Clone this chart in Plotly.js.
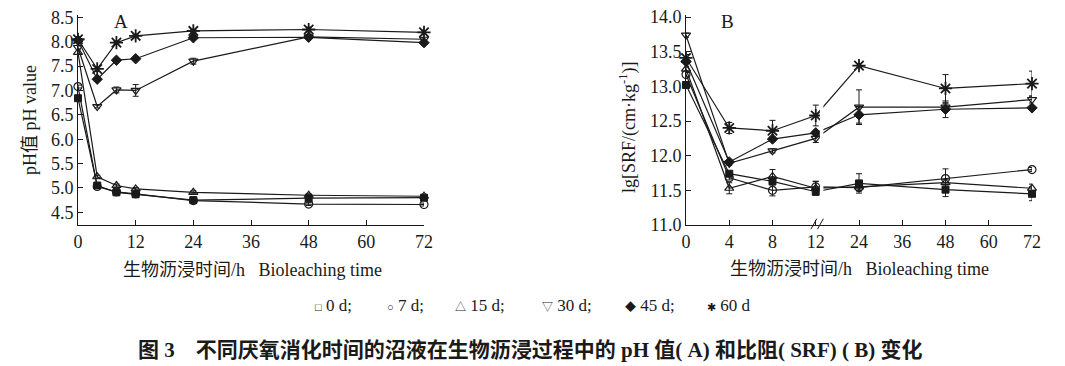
<!DOCTYPE html>
<html>
<head>
<meta charset="utf-8">
<script src="https://cdn.plot.ly/plotly-3.0.1.min.js"></script>
<style>html,body{margin:0;padding:0;background:#fff;}#chart{width:1065px;height:366px;}</style>
</head>
<body>
<div id="chart"></div>
<script>
// ---- data ----
const timesA = [0, 4, 8, 12, 24, 48, 72];
const timesB = ["0", "4", "8", "12", "24", "48", "72"];
const catsB = ["0", "4", "8", "12", "24", "36", "48", "60", "72"];
const seriesNames = ["0 d", "7 d", "15 d", "30 d", "45 d", "60 d"];

const ph0d  = [6.84, 5.05, 4.91, 4.87, 4.75, 4.79, 4.80];
const ph7d  = [7.08, 5.03, 4.92, 4.88, 4.74, 4.67, 4.66];
const ph15d = [7.78, 5.23, 5.05, 4.98, 4.91, 4.85, 4.83];
const ph30d = [7.88, 6.67, 7.01, 7.00, 7.60, 8.10, 8.05];
const ph45d = [8.03, 7.23, 7.62, 7.65, 8.08, 8.09, 7.98];
const ph60d = [8.05, 7.44, 7.98, 8.12, 8.22, 8.25, 8.19];

const phErr0d  = [0.03, 0.03, 0.03, 0.03, 0.03, 0.03, 0.03];
const phErr7d  = [0.03, 0.03, 0.03, 0.03, 0.03, 0.03, 0.03];
const phErr15d = [0.03, 0.03, 0.03, 0.03, 0.03, 0.03, 0.03];
const phErr30d = [0.03, 0.03, 0.06, 0.12, 0.06, 0.03, 0.03];
const phErr45d = [0.03, 0.03, 0.03, 0.03, 0.03, 0.03, 0.03];
const phErr60d = [0.03, 0.05, 0.03, 0.03, 0.03, 0.05, 0.05];

const srf0d  = [13.02, 11.74, 11.63, 11.48, 11.60, 11.51, 11.45];
const srf7d  = [13.17, 11.68, 11.50, 11.55, 11.54, 11.67, 11.80];
const srf15d = [13.25, 11.53, 11.70, 11.53, 11.55, 11.61, 11.53];
const srf30d = [13.74, 11.89, 12.07, 12.25, 12.70, 12.70, 12.81];
const srf45d = [13.36, 11.91, 12.24, 12.33, 12.59, 12.67, 12.69];
const srf60d = [13.41, 12.40, 12.36, 12.58, 13.30, 12.97, 13.04];

const srfErr0d  = [0.03, 0.03, 0.05, 0.03, 0.14, 0.10, 0.10];
const srfErr7d  = [0.03, 0.03, 0.08, 0.08, 0.05, 0.14, 0.03];
const srfErr15d = [0.03, 0.08, 0.10, 0.10, 0.05, 0.05, 0.06];
const srfErr30d = [0.03, 0.03, 0.03, 0.06, 0.25, 0.05, 0.05];
const srfErr45d = [0.03, 0.03, 0.03, 0.03, 0.12, 0.12, 0.03];
const srfErr60d = [0.05, 0.08, 0.15, 0.15, 0.03, 0.20, 0.18];

const legendSymbols = ["\u25A1", "\u25CB", "\u25B3", "\u25BD", "\u25C6", "\u2731"];

// ---- styles ----
const ink = "#1a1a1a";
const serif = "Liberation Serif, 'Times New Roman', 'Noto Sans CJK SC', serif";
const markerStyles = [
  {symbol: "square", size: 7, color: ink, line: {color: ink, width: 1}},
  {symbol: "circle-open", size: 8, color: ink, line: {color: ink, width: 1.2}},
  {symbol: "triangle-up-open", size: 8, color: ink, line: {color: ink, width: 1.2}},
  {symbol: "triangle-down-open", size: 8, color: ink, line: {color: ink, width: 1.2}},
  {symbol: "diamond", size: 8, color: ink, line: {color: ink, width: 1}},
  {symbol: "asterisk-open", size: 11, color: ink, line: {color: ink, width: 1.8}}
];

const phSeries = [ph0d, ph7d, ph15d, ph30d, ph45d, ph60d];
const phErrs = [phErr0d, phErr7d, phErr15d, phErr30d, phErr45d, phErr60d];
const srfSeries = [srf0d, srf7d, srf15d, srf30d, srf45d, srf60d];
const srfErrs = [srfErr0d, srfErr7d, srfErr15d, srfErr30d, srfErr45d, srfErr60d];

const traces = [];
seriesNames.forEach((name, i) => {
  traces.push({
    x: timesA, y: phSeries[i], name: name, type: "scatter", mode: "lines+markers",
    xaxis: "x", yaxis: "y", cliponaxis: false, showlegend: false,
    line: {color: ink, width: 1.2}, marker: markerStyles[i],
    error_y: {type: "data", array: phErrs[i], visible: true, color: ink, thickness: 1, width: 3}
  });
  traces.push({
    x: timesB, y: srfSeries[i], name: name, type: "scatter", mode: "lines+markers",
    xaxis: "x2", yaxis: "y2", cliponaxis: false, showlegend: false,
    line: {color: ink, width: 1.2}, marker: markerStyles[i],
    error_y: {type: "data", array: srfErrs[i], visible: true, color: ink, thickness: 1, width: 3}
  });
});

const W = 1065, H = 366;
const px = v => v / W;
const py = v => 1 - v / H;

const axisCommon = {
  showline: true, linecolor: ink, linewidth: 1, mirror: false,
  ticks: "inside", ticklen: 5, tickcolor: ink, tickwidth: 1,
  showgrid: false, zeroline: false,
  tickfont: {family: serif, size: 18, color: ink}
};

function note(text, x, y, size, extra) {
  return Object.assign({
    text: text, x: px(x), y: py(y), xref: "paper", yref: "paper",
    xanchor: "center", yanchor: "middle", showarrow: false,
    font: {family: serif, size: size, color: ink}
  }, extra || {});
}

const annotations = [
  note("A", 121, 22, 19),
  note("B", 727, 22, 19),
  note("pH值 pH value", 30, 120, 18, {textangle: -90}),
  note("lg[SRF/(cm·kg<sup>-1</sup>)]", 628, 127, 18, {textangle: -90}),
  note("生物沥浸时间/h\u00A0\u00A0\u00A0Bioleaching time", 252, 270, 18),
  note("生物沥浸时间/h\u00A0\u00A0\u00A0Bioleaching time", 859, 269, 18),
  note("<b>图 3\u00A0\u00A0\u00A0\u00A0不同厌氧消化时间的沼液在生物沥浸过程中的 pH 值( A) 和比阻( SRF) ( B) 变化</b>", 530, 350, 21)
];

const legendX = [313, 385, 453, 540, 623, 705];
seriesNames.forEach((name, i) => {
  annotations.push(note('<span style="font-size:11px">' + legendSymbols[i] + '</span> ' + name + (i < seriesNames.length - 1 ? ";" : ""),
    legendX[i], 305, 17, {xanchor: "left"}));
});

const layout = {
  width: W, height: H,
  margin: {l: 0, r: 0, t: 0, b: 0},
  paper_bgcolor: "#fff", plot_bgcolor: "#fff",
  showlegend: false,
  xaxis: Object.assign({}, axisCommon, {
    domain: [px(78), px(424)], range: [0, 72], tickvals: [0, 12, 24, 36, 48, 60, 72], anchor: "y"
  }),
  yaxis: Object.assign({}, axisCommon, {
    domain: [py(225), py(15)], range: [4.24, 8.547],
    tickvals: [4.5, 5.0, 5.5, 6.0, 6.5, 7.0, 7.5, 8.0, 8.5], tickformat: ".1f", anchor: "x"
  }),
  xaxis2: Object.assign({}, axisCommon, {
    domain: [px(686), px(1032)], type: "category", categoryorder: "array", categoryarray: catsB,
    range: [0, 8], anchor: "y2"
  }),
  yaxis2: Object.assign({}, axisCommon, {
    domain: [py(225), py(15)], range: [11.0, 14.03],
    tickvals: [11.0, 11.5, 12.0, 12.5, 13.0, 13.5, 14.0], tickformat: ".1f", anchor: "x2"
  }),
  annotations: annotations,
  shapes: [
    // axis break gap in lines after 12 h
    {type: "rect", xref: "x2 domain", yref: "y2 domain", x0: 0.387, x1: 0.397, y0: 0.02, y1: 1,
     fillcolor: "#fff", line: {width: 0}, layer: "above"},
    // break marks //
    {type: "line", xref: "x2 domain", yref: "y2 domain", x0: 0.361, x1: 0.378, y0: -0.02, y1: 0.03,
     line: {color: ink, width: 1}},
    {type: "line", xref: "x2 domain", yref: "y2 domain", x0: 0.380, x1: 0.397, y0: -0.02, y1: 0.03,
     line: {color: ink, width: 1}}
  ]
};

Plotly.newPlot("chart", traces, layout, {staticPlot: true, displayModeBar: false});
</script>
</body>
</html>
